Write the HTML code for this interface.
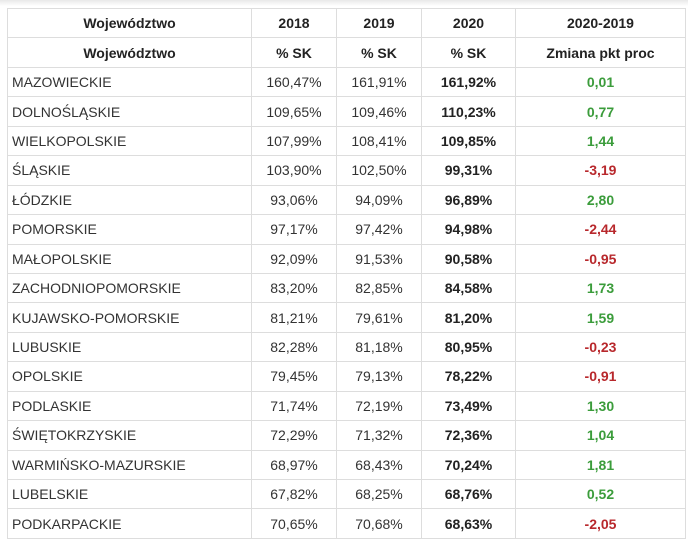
<!DOCTYPE html>
<html><head><meta charset="utf-8"><style>
body{margin:0;background:#fff;width:688px;height:544px;overflow:hidden;font-family:"Liberation Sans",sans-serif;}
table{position:absolute;left:7px;top:8px;border-collapse:collapse;font-size:14px;color:#333;}
td,th{border:1px solid #ddd;height:29.45px;padding:0 4px;box-sizing:border-box;}
th{font-weight:bold;text-align:center;color:#222;}
td{text-align:center;}
td.n{text-align:left;padding-left:4px;}
td.b{font-weight:bold;color:#222;}
td.g{color:#3b9c3b;font-weight:bold;}
td.r{color:#b8282c;font-weight:bold;}
.shadow{position:absolute;left:0;top:0;width:688px;height:6px;background:linear-gradient(#e8e8e8,#fff);}
</style></head><body>
<div class="shadow"></div>
<table>
<colgroup><col style="width:244px"><col style="width:85px"><col style="width:85px"><col style="width:94px"><col style="width:170px"></colgroup>
<thead>
<tr><th>Województwo</th><th>2018</th><th>2019</th><th>2020</th><th>2020-2019</th></tr>
<tr><th>Województwo</th><th>% SK</th><th>% SK</th><th>% SK</th><th>Zmiana pkt proc</th></tr>
</thead>
<tbody id="tb"></tbody>
</table>
<script>
const names=["MAZOWIECKIE","DOLNOŚLĄSKIE","WIELKOPOLSKIE","ŚLĄSKIE","ŁÓDZKIE","POMORSKIE","MAŁOPOLSKIE","ZACHODNIOPOMORSKIE","KUJAWSKO-POMORSKIE","LUBUSKIE","OPOLSKIE","PODLASKIE","ŚWIĘTOKRZYSKIE","WARMIŃSKO-MAZURSKIE","LUBELSKIE","PODKARPACKIE"];
const v2018=["160,47%","109,65%","107,99%","103,90%","93,06%","97,17%","92,09%","83,20%","81,21%","82,28%","79,45%","71,74%","72,29%","68,97%","67,82%","70,65%"];
const v2019=["161,91%","109,46%","108,41%","102,50%","94,09%","97,42%","91,53%","82,85%","79,61%","81,18%","79,13%","72,19%","71,32%","68,43%","68,25%","70,68%"];
const v2020=["161,92%","110,23%","109,85%","99,31%","96,89%","94,98%","90,58%","84,58%","81,20%","80,95%","78,22%","73,49%","72,36%","70,24%","68,76%","68,63%"];
const diff=["0,01","0,77","1,44","-3,19","2,80","-2,44","-0,95","1,73","1,59","-0,23","-0,91","1,30","1,04","1,81","0,52","-2,05"];
const tb=document.getElementById('tb');
names.forEach((n,i)=>{
 const tr=document.createElement('tr');
 
 
 const cells=[[n,'n'],[v2018[i],''],[v2019[i],''],[v2020[i],'b'],[diff[i],diff[i].startsWith('-')?'r':'g']];
 cells.forEach(([t,c])=>{const td=document.createElement('td');td.textContent=t;if(c)td.className=c;
 
 
 tr.appendChild(td);});
 tb.appendChild(tr);
});
</script>
</body></html>
